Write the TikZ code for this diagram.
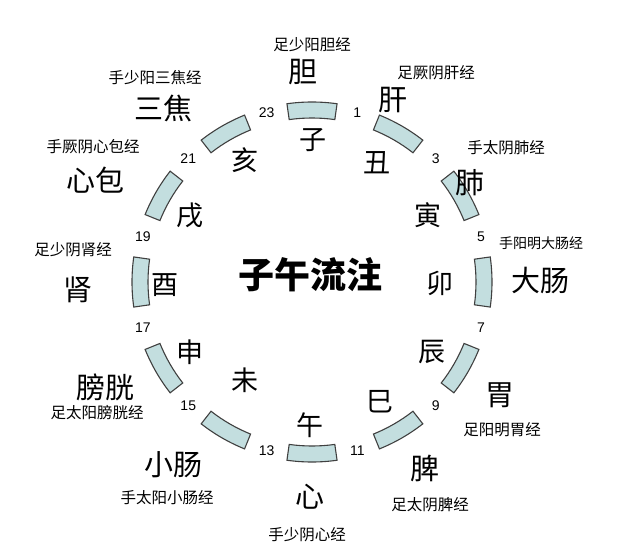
\documentclass[tikz,border=0pt]{standalone}
\usepackage{fontspec}
\newfontfamily\cjk{Noto Sans CJK SC}
\newfontfamily\lsans{Liberation Sans}
\definecolor{segc}{HTML}{C3DEDF}
\begin{document}
\begin{tikzpicture}[x=1pt,y=-1pt,
  seg/.style={fill=segc, draw=black!75, line width=1.1pt},
  big/.style={font=\cjk\fontsize{29}{29}\selectfont},
  br/.style={font=\cjk\fontsize{27}{27}\selectfont},
  sm/.style={font=\cjk\fontsize{15.5}{16}\selectfont},
  num/.style={font=\lsans\fontsize{14}{14}\selectfont}]
\useasboundingbox (0,0) rectangle (642,548);
\coordinate (c) at (312,282);
\foreach \k in {0,...,11}{
  \pgfmathsetmacro\a{-90+30*\k}
  \draw[seg] ([shift={(\a-8:180)}]c) arc[start angle=\a-8,end angle=\a+8,radius=180]
    -- ([shift={(\a+8:164)}]c) arc[start angle=\a+8,end angle=\a-8,radius=164] -- cycle;
  \pgfmathtruncatemacro\n{2*\k+1}
  \node[num] (n\k) at ([shift={(-75+30*\k:175)}]c) {\n};
}
\node[font=\cjk\bfseries\fontsize{36}{36}\selectfont] (ctr) at (310,275) {子午流注};
% branches
\node[br] (b1) at (313,140) {子};
\node[br] (b2) at (377,163) {丑};
\node[br] (b3) at (428,215) {寅};
\node[br] (b4) at (440,283) {卯};
\node[br] (b5) at (432,352) {辰};
\node[br] (b6) at (380,402) {巳};
\node[br] (b7) at (310,425) {午};
\node[br] (b8) at (245,380) {未};
\node[br] (b9) at (190,352) {申};
\node[br] (b10) at (165,285) {酉};
\node[br] (b11) at (190,215) {戌};
\node[br] (b12) at (245,160) {亥};
% organs
\node[big] (o1) at (303,72) {胆};
\node[big] (o2) at (393,100) {肝};
\node[big] (o3) at (470,183) {肺};
\node[big] (o4) at (540,280) {大肠};
\node[big] (o5) at (500,395) {胃};
\node[big] (o6) at (425,468) {脾};
\node[big] (o7) at (310,497) {心};
\node[big] (o8) at (173,465) {小肠};
\node[big] (o9) at (105,387) {膀胱};
\node[big] (o10) at (78,290) {肾};
\node[big] (o11) at (95,180) {心包};
\node[big] (o12) at (163,108) {三焦};
% meridians
\node[sm] (m1) at (312,45) {足少阳胆经};
\node[sm] (m2) at (436,73) {足厥阴肝经};
\node[sm] (m3) at (506,148) {手太阴肺经};
\node[sm,font=\cjk\fontsize{14}{14}\selectfont] (m4) at (541,243) {手阳明大肠经};
\node[sm] (m5) at (502,430) {足阳明胃经};
\node[sm] (m6) at (430,505) {足太阴脾经};
\node[sm] (m7) at (307,535) {手少阴心经};
\node[sm] (m8) at (167,498) {手太阳小肠经};
\node[sm] (m9) at (97,413) {足太阳膀胱经};
\node[sm] (m10) at (73,250) {足少阴肾经};
\node[sm] (m11) at (93,147) {手厥阴心包经};
\node[sm] (m12) at (155,78) {手少阳三焦经};
\end{tikzpicture}
\end{document}
